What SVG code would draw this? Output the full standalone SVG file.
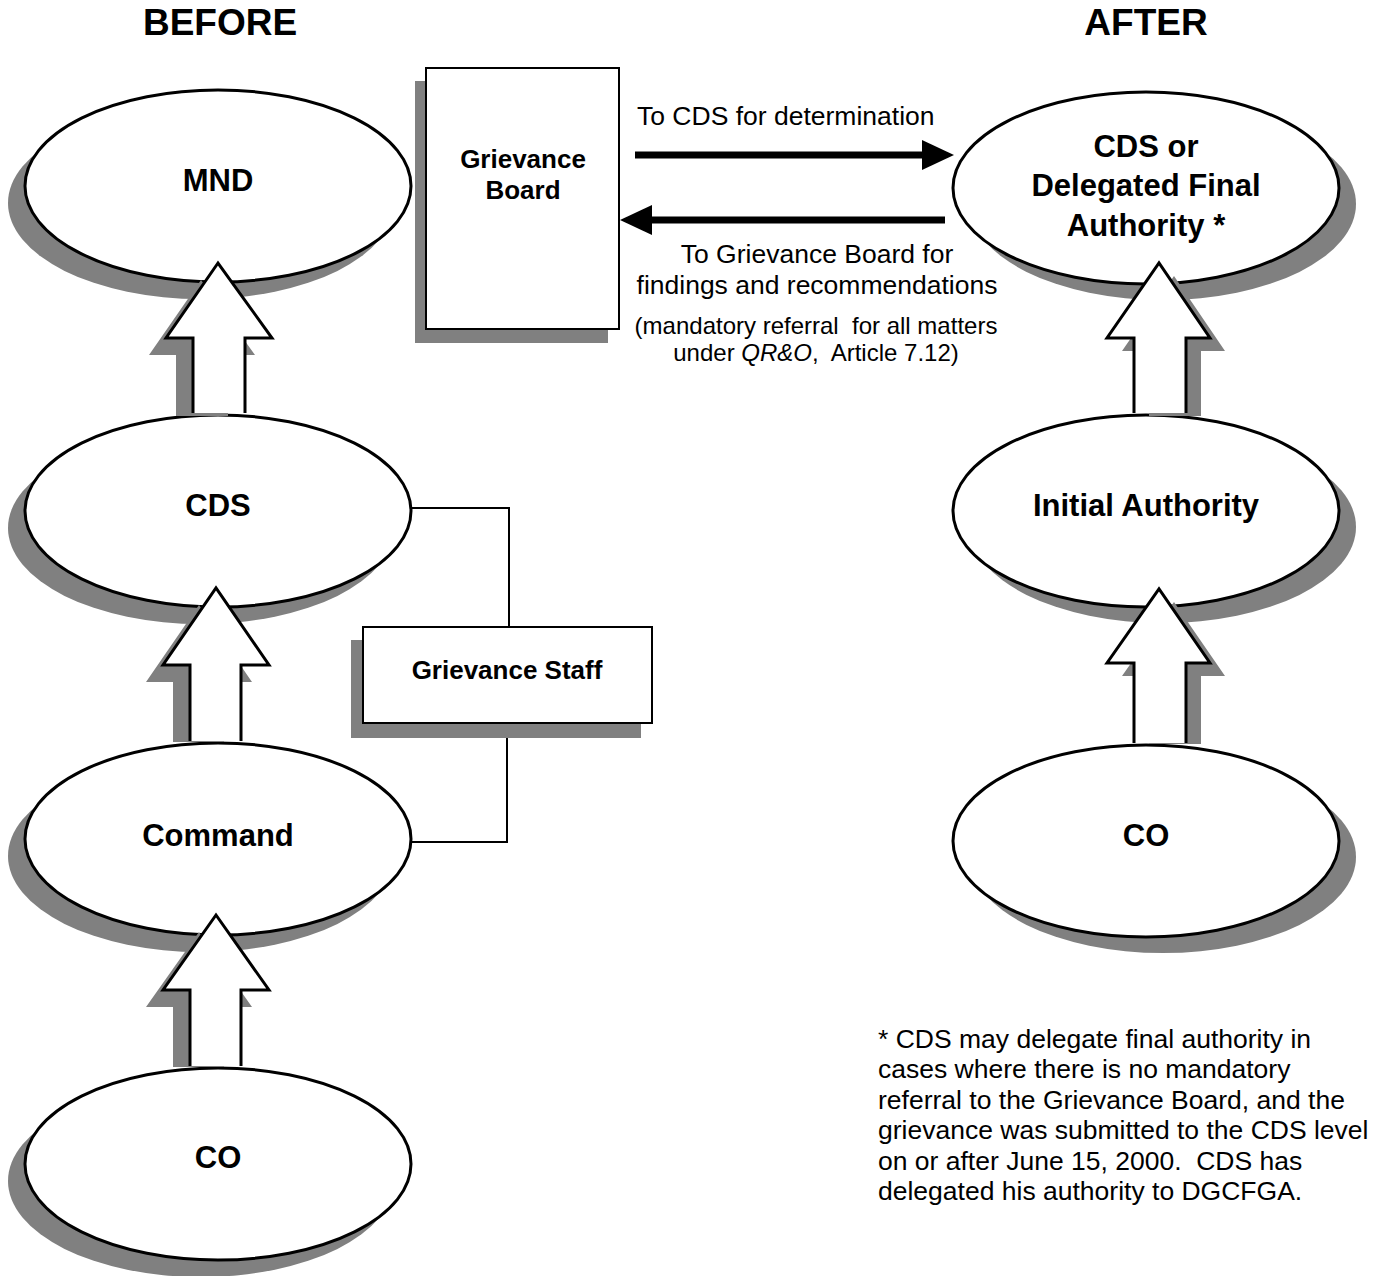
<svg xmlns="http://www.w3.org/2000/svg" width="1374" height="1276" viewBox="0 0 1374 1276">
<style>
.bg{fill:#fff}
.sh{fill:#808080;stroke:none}
.node{fill:#fff;stroke:#000;stroke-width:3}
.box{fill:#fff;stroke:#000;stroke-width:2}
.lbl{font-family:"Liberation Sans",Arial,sans-serif;font-weight:bold;font-size:31px;text-anchor:middle;fill:#000}
.lbl2{font-family:"Liberation Sans",Arial,sans-serif;font-weight:bold;font-size:26px;text-anchor:middle;fill:#000}
.title{font-family:"Liberation Sans",Arial,sans-serif;font-weight:bold;font-size:37px;text-anchor:middle;fill:#000}
.txt{font-family:"Liberation Sans",Arial,sans-serif;font-size:26.5px;fill:#000}
.sm{font-family:"Liberation Sans",Arial,sans-serif;font-size:24px;fill:#000;text-anchor:middle}
.blk{fill:#fff;stroke:#000;stroke-width:3;stroke-linejoin:miter}
.ln{fill:none;stroke:#000;stroke-width:2}
.thick{fill:none;stroke:#000;stroke-width:7}
</style>
<rect class="bg" x="0" y="0" width="1374" height="1276"/>
<text class="title" x="220" y="35">BEFORE</text>
<text class="title" x="1146" y="35">AFTER</text>

<g id="node-mnd">
<ellipse class="sh" cx="201" cy="203" rx="193" ry="96"/>
<ellipse class="node" cx="218" cy="186" rx="193" ry="96"/>
<text class="lbl" x="218" y="191">MND</text>
</g>
<g id="node-cds">
<ellipse class="sh" cx="201" cy="528" rx="193" ry="96"/>
<ellipse class="node" cx="218" cy="511" rx="193" ry="96"/>
<text class="lbl" x="218" y="516">CDS</text>
</g>
<g id="node-command">
<ellipse class="sh" cx="201" cy="856" rx="193" ry="96"/>
<ellipse class="node" cx="218" cy="839" rx="193" ry="96"/>
<text class="lbl" x="218" y="846">Command</text>
</g>
<g id="node-co-before">
<ellipse class="sh" cx="201" cy="1181" rx="193" ry="96"/>
<ellipse class="node" cx="218" cy="1164" rx="193" ry="96"/>
<text class="lbl" x="218" y="1168">CO</text>
</g>
<g id="node-grievance-board">
<rect class="sh" x="415" y="81" width="193" height="262"/>
<rect class="box" x="426" y="68" width="193" height="261"/>
<text class="lbl2" x="523" y="168">Grievance</text>
<text class="lbl2" x="523" y="199">Board</text>
</g>
<g id="node-grievance-staff">
<rect class="sh" x="351" y="640" width="290" height="98"/>
<rect class="box" x="363" y="627" width="289" height="96"/>
<text class="lbl2" x="507" y="679">Grievance Staff</text>
</g>
<g id="node-final-authority">
<ellipse class="sh" cx="1163" cy="204" rx="193" ry="96"/>
<ellipse class="node" cx="1146" cy="188" rx="193" ry="96"/>
<text class="lbl" x="1146" y="157">CDS or</text>
<text class="lbl" x="1146" y="196">Delegated Final</text>
<text class="lbl" x="1146" y="236">Authority *</text>
</g>
<g id="node-initial-authority">
<ellipse class="sh" cx="1163" cy="527" rx="193" ry="96"/>
<ellipse class="node" cx="1146" cy="511" rx="193" ry="96"/>
<text class="lbl" x="1146" y="516">Initial Authority</text>
</g>
<g id="node-co-after">
<ellipse class="sh" cx="1163" cy="857" rx="193" ry="96"/>
<ellipse class="node" cx="1146" cy="841" rx="193" ry="96"/>
<text class="lbl" x="1146" y="846">CO</text>
</g>

<g id="connectors">
<!-- block arrows, left column (shadow offset left-down) -->
<path class="sh" d="M201,280 L255,355 L228,355 L228,416 L176,416 L176,355 L149,355 Z"/>
<path class="blk" d="M193,413 L193,338 L166,338 L218,263 L272,338 L245,338 L245,413"/>
<path class="sh" d="M199,605 L252,682 L224,682 L224,742 L173,742 L173,682 L146,682 Z"/>
<path class="blk" d="M190,741 L190,665 L163,665 L216,588 L269,665 L241,665 L241,741"/>
<path class="sh" d="M199,932 L252,1007 L224,1007 L224,1067 L173,1067 L173,1007 L146,1007 Z"/>
<path class="blk" d="M190,1066 L190,990 L163,990 L216,915 L269,990 L241,990 L241,1066"/>
<!-- block arrows, right column (shadow offset right-down) -->
<path class="sh" d="M1174,276 L1225,351 L1201,351 L1201,416 L1149,416 L1149,351 L1122,351 Z"/>
<path class="blk" d="M1134,413 L1134,338 L1107,338 L1159,263 L1210,338 L1186,338 L1186,413"/>
<path class="sh" d="M1174,602 L1225,676 L1201,676 L1201,744 L1149,744 L1149,676 L1122,676 Z"/>
<path class="blk" d="M1134,743 L1134,663 L1107,663 L1159,589 L1210,663 L1186,663 L1186,743"/>
<!-- horizontal arrows -->
<line class="thick" x1="635" y1="155" x2="924" y2="155"/>
<polygon points="922,140 954,155 922,170" fill="#000"/>
<line class="thick" x1="945" y1="220" x2="648" y2="220"/>
<polygon points="652,205 620,220 652,235" fill="#000"/>
<!-- grievance staff links -->
<polyline class="ln" points="411,508 509,508 509,627"/>
<polyline class="ln" points="507,738 507,842 411,842"/>
</g>

<text class="txt" x="637" y="125">To CDS for determination</text>
<text class="txt" x="817" y="263" text-anchor="middle">To Grievance Board for</text>
<text class="txt" x="817" y="294" text-anchor="middle">findings and recommendations</text>
<text class="sm" x="816" y="334" xml:space="preserve">(mandatory referral  for all matters</text>
<text class="sm" x="816" y="361" xml:space="preserve">under <tspan font-style="italic">QR&amp;O</tspan>,  Article 7.12)</text>

<g class="txt">
<text x="878" y="1048">* CDS may delegate final authority in</text>
<text x="878" y="1078">cases where there is no mandatory</text>
<text x="878" y="1109">referral to the Grievance Board, and the</text>
<text x="878" y="1139">grievance was submitted to the CDS level</text>
<text x="878" y="1170" xml:space="preserve">on or after June 15, 2000.  CDS has</text>
<text x="878" y="1200">delegated his authority to DGCFGA.</text>
</g>
</svg>
